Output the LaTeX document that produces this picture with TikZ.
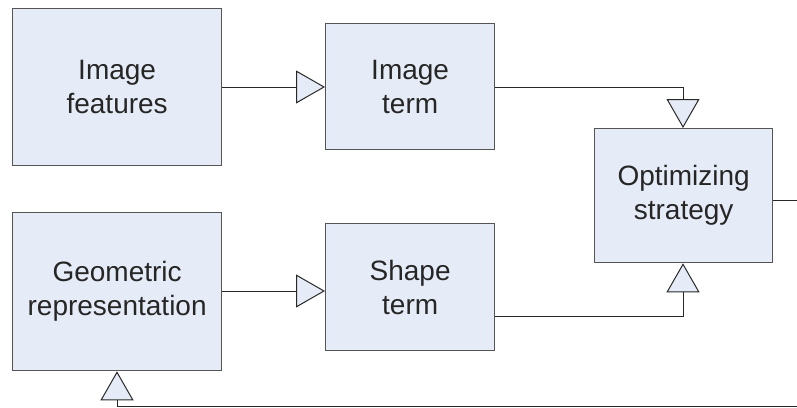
\documentclass[tikz,border=0pt]{standalone}
\usepackage{fontspec}
\setmainfont{Liberation Sans}
\usetikzlibrary{arrows.meta}
\definecolor{boxfill}{RGB}{230,236,247}
\definecolor{boxline}{RGB}{85,85,85}
\definecolor{conn}{RGB}{40,40,40}
\begin{document}
\begin{tikzpicture}[x=1pt,y=-1pt,
  blk/.style={draw=boxline, line width=1.3pt, fill=boxfill, anchor=north west,
    inner sep=0pt, align=center, font=\fontsize{28}{34}\selectfont, text=black!85},
  conn/.style={draw=conn, line width=1pt,
    -{Triangle[width=33pt,length=29pt,fill=boxfill,line join=miter]}}]
\useasboundingbox (0,0) rectangle (797,407);
\node[blk, minimum width=209pt, minimum height=157pt] (feat) at (12,8) {Image\\features};
\node[blk, minimum width=169pt, minimum height=126pt] (iterm) at (325,23) {Image\\term};
\node[blk, minimum width=178pt, minimum height=134pt] (opt) at (594,128) {Optimizing\\strategy};
\node[blk, minimum width=209pt, minimum height=158pt] (geo) at (12,212) {Geometric\\representation};
\node[blk, minimum width=169pt, minimum height=127pt] (sterm) at (325,223) {Shape\\term};
\coordinate (outR) at (803,200);
\coordinate (outB) at (803,406);
\coordinate (fbL) at (117,406);
\draw[conn] (feat.east |- 0,87) -- (iterm.west |- 0,87);
\draw[conn] (geo.east |- 0,291) -- (sterm.west |- 0,291);
\draw[conn] (iterm.east |- 0,87) -| (opt.north -| 683,0);
\draw[conn] (sterm.east |- 0,316) -| (opt.south -| 683,0);
\draw[conn] (opt.east |- 0,200) -- (outR) -- (outB) -- (fbL) -- (geo.south -| fbL);
\end{tikzpicture}
\end{document}
